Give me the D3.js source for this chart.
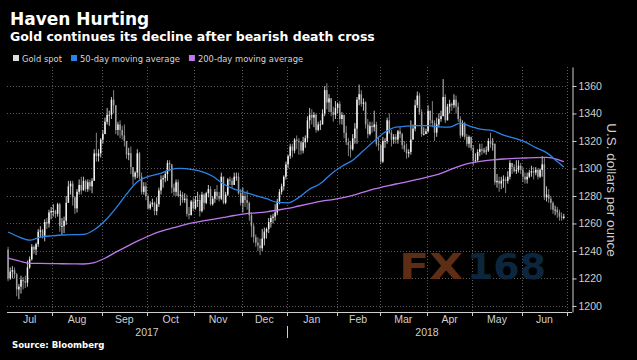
<!DOCTYPE html>
<html>
<head>
<meta charset="utf-8">
<script src="https://cdn.jsdelivr.net/npm/d3@7"></script>
<style>
    html, body { margin: 0; padding: 0; background: #000; }
    svg { display: block; }
</style>
</head>
<body>
<svg id="chart" width="637" height="360"></svg>
<script>
// trading days (weekdays) shown on the axis
var startDate = "2017-07-03",
    endDate = "2018-06-29";

var yTicks = [1200, 1220, 1240, 1260, 1280, 1300, 1320, 1340, 1360];

var seriesNames = ["Gold spot", "50-day moving average", "200-day moving average"];

// gold spot, one value per weekday from Jul 3 2017 (open = previous close)
var firstOpen = 1241;
var close = [
    1220, 1225, 1226, 1223, 1212,  1214, 1219, 1218, 1217, 1228,
    1234, 1243, 1241, 1245, 1254,  1255, 1251, 1261, 1260, 1268,
    1269, 1269, 1267, 1274, 1258,  1258, 1262, 1275, 1287, 1289,
    1279, 1271, 1283, 1288, 1284,  1291, 1285, 1290, 1287, 1291,
    1311, 1309, 1311, 1321, 1325,  1334, 1339, 1339, 1350, 1346,
    1328, 1332, 1328, 1324, 1320,  1310, 1311, 1301, 1294, 1297,
    1311, 1294, 1283, 1287, 1280,  1271, 1274, 1275, 1269, 1274,
    1284, 1292, 1293, 1296, 1304,  1303, 1286, 1283, 1290, 1280,
    1281, 1277, 1278, 1267, 1266,  1276, 1271, 1277, 1277, 1269,
    1281, 1275, 1282, 1285, 1274,  1278, 1283, 1280, 1278, 1294,
    1275, 1281, 1292, 1291, 1288,  1294, 1294, 1282, 1275, 1280,
    1277, 1275, 1266, 1258, 1250,  1246, 1244, 1242, 1249, 1254,
    1256, 1261, 1264, 1265, 1268,  1276, 1283, 1287, 1294, 1303,
    1309, 1316, 1313, 1321, 1320,  1319, 1313, 1319, 1322, 1335,
    1339, 1337, 1339, 1328, 1332,  1332, 1340, 1357, 1348, 1351,
    1341, 1339, 1344, 1347, 1336,  1339, 1326, 1319, 1317, 1314,
    1322, 1329, 1350, 1354, 1347,  1348, 1332, 1325, 1331, 1330,
    1332, 1318, 1317, 1305, 1320,  1320, 1335, 1326, 1321, 1323,
    1321, 1327, 1325, 1317, 1314,  1311, 1312, 1321, 1329, 1346,
    1353, 1341, 1325, 1325, 1327,  1342, 1335, 1333, 1326, 1332,
    1336, 1338, 1352, 1335, 1345,  1347, 1346, 1350, 1345, 1336,
    1324, 1333, 1323, 1318, 1323,  1315, 1306, 1306, 1312, 1314,
    1313, 1313, 1313, 1320, 1318,  1318, 1290, 1291, 1289, 1291,
    1292, 1291, 1294, 1304, 1301,  1298, 1299, 1302, 1299, 1294,
    1292, 1294, 1297, 1298, 1297,  1299, 1294, 1299, 1303, 1279,
    1281, 1278, 1275, 1270, 1270,  1268, 1265, 1264, 1265
];
var high = [
    1243, 1228, 1229, 1228, 1224,  1216, 1222, 1221, 1222, 1233,
    1236, 1245, 1244, 1246, 1256,  1258, 1256, 1263, 1264, 1270,
    1272, 1274, 1270, 1275, 1275,  1264, 1265, 1280, 1291, 1291,
    1291, 1280, 1285, 1292, 1294,  1294, 1292, 1292, 1292, 1293,
    1314, 1326, 1314, 1322, 1328,  1337, 1344, 1342, 1352, 1357,
    1338, 1334, 1335, 1331, 1332,  1320, 1315, 1316, 1301, 1298,
    1314, 1312, 1297, 1290, 1290,  1281, 1276, 1278, 1276, 1279,
    1286, 1295, 1295, 1298, 1306,  1306, 1303, 1289, 1292, 1292,
    1284, 1283, 1282, 1281, 1272,  1277, 1279, 1280, 1283, 1281,
    1283, 1282, 1283, 1288, 1287,  1280, 1285, 1288, 1283, 1297,
    1294, 1283, 1293, 1294, 1293,  1297, 1297, 1297, 1285, 1286,
    1282, 1284, 1276, 1268, 1260,  1252, 1250, 1249, 1256, 1257,
    1257, 1264, 1266, 1267, 1274,  1278, 1285, 1289, 1295, 1305,
    1310, 1318, 1318, 1322, 1324,  1322, 1320, 1323, 1324, 1338,
    1344, 1343, 1341, 1340, 1334,  1335, 1343, 1360, 1362, 1354,
    1351, 1345, 1349, 1348, 1349,  1341, 1339, 1331, 1322, 1320,
    1325, 1333, 1352, 1361, 1357,  1351, 1349, 1336, 1334, 1334,
    1342, 1334, 1323, 1318, 1323,  1322, 1337, 1340, 1328, 1325,
    1325, 1328, 1330, 1326, 1320,  1318, 1314, 1335, 1332, 1350,
    1356, 1355, 1343, 1330, 1329,  1346, 1342, 1349, 1335, 1337,
    1340, 1342, 1365, 1354, 1347,  1350, 1348, 1354, 1353, 1348,
    1338, 1335, 1334, 1325, 1324,  1320, 1317, 1311, 1314, 1318,
    1318, 1315, 1316, 1322, 1326,  1322, 1318, 1296, 1294, 1294,
    1295, 1294, 1298, 1306, 1303,  1303, 1306, 1306, 1304, 1301,
    1297, 1297, 1299, 1302, 1301,  1301, 1300, 1300, 1309, 1308,
    1287, 1285, 1280, 1276, 1273,  1272, 1270, 1268, 1267
];
var low = [
    1218, 1219, 1220, 1220, 1207,  1205, 1209, 1212, 1213, 1214,
    1227, 1233, 1238, 1237, 1243,  1250, 1249, 1247, 1256, 1257,
    1263, 1265, 1264, 1265, 1254,  1252, 1253, 1259, 1276, 1281,
    1273, 1267, 1268, 1281, 1281,  1284, 1283, 1283, 1284, 1282,
    1291, 1305, 1305, 1308, 1318,  1325, 1332, 1331, 1336, 1340,
    1325, 1324, 1322, 1321, 1316,  1307, 1306, 1296, 1288, 1292,
    1293, 1292, 1281, 1281, 1277,  1270, 1270, 1272, 1266, 1266,
    1272, 1281, 1286, 1290, 1291,  1298, 1282, 1280, 1280, 1279,
    1273, 1275, 1275, 1265, 1263,  1266, 1269, 1270, 1272, 1265,
    1268, 1270, 1274, 1279, 1273,  1273, 1275, 1277, 1276, 1277,
    1274, 1274, 1280, 1288, 1286,  1288, 1291, 1281, 1273, 1268,
    1272, 1270, 1262, 1250, 1246,  1243, 1240, 1237, 1240, 1244,
    1249, 1253, 1257, 1260, 1262,  1266, 1274, 1281, 1284, 1292,
    1300, 1307, 1308, 1311, 1314,  1310, 1310, 1311, 1315, 1319,
    1329, 1332, 1330, 1326, 1327,  1328, 1332, 1338, 1343, 1341,
    1338, 1334, 1336, 1340, 1332,  1332, 1322, 1317, 1309, 1308,
    1313, 1318, 1318, 1346, 1345,  1342, 1329, 1322, 1324, 1326,
    1327, 1316, 1313, 1303, 1304,  1315, 1318, 1325, 1316, 1318,
    1318, 1318, 1322, 1314, 1312,  1307, 1308, 1310, 1322, 1327,
    1344, 1339, 1323, 1324, 1325,  1326, 1332, 1330, 1320, 1323,
    1330, 1334, 1338, 1333, 1336,  1340, 1342, 1344, 1340, 1334,
    1322, 1323, 1321, 1316, 1315,  1313, 1302, 1304, 1305, 1309,
    1310, 1311, 1310, 1312, 1315,  1313, 1288, 1286, 1283, 1285,
    1286, 1282, 1289, 1292, 1296,  1297, 1296, 1297, 1296, 1290,
    1289, 1289, 1293, 1294, 1292,  1295, 1292, 1293, 1294, 1277,
    1276, 1275, 1270, 1267, 1266,  1264, 1262, 1262, 1263
];

// moving averages read every 5th trading day (last value = last trading day)
var maStep = 5;
var ma50 = [
    1253.8, 1250.3, 1247.9, 1250.0, 1251.0, 1251.6, 1251.9, 1252.0, 1255.4, 1262.0,
    1271.0, 1281.3, 1290.4, 1294.0, 1296.0, 1299.0, 1300.0, 1299.4, 1297.7, 1294.3,
    1288.7, 1285.0, 1282.6, 1280.3, 1278.0, 1275.3, 1275.0, 1279.0, 1285.0, 1289.0,
    1296.0, 1301.6, 1306.0, 1313.0, 1320.0, 1326.3, 1330.0, 1330.8, 1331.2, 1331.1,
    1330.3, 1330.0, 1333.0, 1330.5, 1328.4, 1327.5, 1324.2, 1322.0, 1319.3, 1315.2,
    1311.5, 1305.0, 1301.0
];
var ma200 = [
    1234.7, 1232.8, 1231.0, 1230.9, 1230.8, 1230.7, 1230.6, 1230.5, 1231.5, 1234.7,
    1239.1, 1243.2, 1247.1, 1250.7, 1253.8, 1256.1, 1258.2, 1260.2, 1261.7, 1263.0,
    1264.4, 1265.8, 1267.0, 1267.7, 1268.5, 1269.7, 1271.0, 1272.7, 1274.4, 1276.1,
    1277.2, 1278.6, 1280.4, 1282.8, 1285.1, 1286.9, 1288.7, 1290.3, 1292.0, 1293.8,
    1295.9, 1299.0, 1301.9, 1304.0, 1305.3, 1306.3, 1306.9, 1307.3, 1307.6, 1307.9,
    1308.0, 1306.7, 1305.0
];

var colorUp = "#f2f2f2",
    colorDown = "#a3a3a3",
    color50 = "#2a84e8",
    color200 = "#c077ee",
    colorGrid = "#5c5c5c",
    colorAxis = "#cfcfcf",
    colorText = "#cfcfcf";

var svg = d3.select("#chart"),
    parse = d3.timeParse("%Y-%m-%d"),
    days = d3.timeDay.range(parse(startDate), d3.timeDay.offset(parse(endDate), 1))
        .filter(function (d) { return d.getDay() % 6 !== 0; }),
    plot = { left: 7, right: 567, top: 67, bottom: 312 },
    x = d3.scaleLinear()
        .domain([-0.5, days.length - 0.5])
        .range([plot.left, plot.right]),
    y = d3.scaleLinear()
        .domain([1195.6, 1373.8])
        .range([plot.bottom, plot.top]);

svg.append("rect").attr("width", 637).attr("height", 360).attr("fill", "#000");

// months and years from the weekday list
var months = [];
days.forEach(function (d, i) {
    if (i === 0 || d.getMonth() !== days[i - 1].getMonth()) {
        months.push({ date: d, start: i - 0.5 });
    }
});
months.forEach(function (m, k) {
    m.end = k < months.length - 1 ? months[k + 1].start : days.length - 0.5;
});
var years = d3.groups(months, function (m) { return m.date.getFullYear(); })
    .map(function (g) {
        return { label: String(g[0]), start: g[1][0].start, end: g[1][g[1].length - 1].end };
    });

// grid
var grid = svg.append("g")
    .attr("stroke", colorGrid)
    .attr("stroke-width", 1)
    .attr("stroke-dasharray", "1,2");

grid.selectAll("line.h")
    .data(yTicks)
    .enter().append("line")
    .attr("x1", plot.left).attr("x2", plot.right)
    .attr("y1", function (d) { return Math.round(y(d)) + 0.5; })
    .attr("y2", function (d) { return Math.round(y(d)) + 0.5; });

grid.selectAll("line.v")
    .data(months.map(function (m) { return m.end; }))
    .enter().append("line")
    .attr("x1", function (d) { return Math.round(x(d)) + 0.5; })
    .attr("x2", function (d) { return Math.round(x(d)) + 0.5; })
    .attr("y1", plot.top).attr("y2", plot.bottom);

// watermark
var mark = svg.append("g")
    .attr("font-family", "DejaVu Sans")
    .attr("font-weight", "bold")
    .attr("font-size", 36);
mark.append("text").attr("x", 399).attr("y", 279)
    .attr("textLength", 64).attr("lengthAdjust", "spacingAndGlyphs")
    .attr("fill", "#5e2d14").text("FX");
mark.append("text").attr("x", 467).attr("y", 279)
    .attr("textLength", 79).attr("lengthAdjust", "spacingAndGlyphs")
    .attr("fill", "#0c263d").text("168");

// candles
var candles = close.map(function (c, i) {
    return { i: i, open: i ? close[i - 1] : firstOpen, close: c, high: high[i], low: low[i] };
});
var bodyW = 1.5;

var cg = svg.append("g");
cg.selectAll("line")
    .data(candles)
    .enter().append("line")
    .attr("x1", function (d) { return x(d.i); })
    .attr("x2", function (d) { return x(d.i); })
    .attr("y1", function (d) { return y(Math.max(d.high, d.open, d.close)); })
    .attr("y2", function (d) { return y(Math.min(d.low, d.open, d.close)); })
    .attr("stroke", function (d) { return d.close >= d.open ? colorUp : colorDown; })
    .attr("stroke-width", 0.8);
cg.selectAll("rect")
    .data(candles)
    .enter().append("rect")
    .attr("x", function (d) { return x(d.i) - bodyW / 2; })
    .attr("width", bodyW)
    .attr("y", function (d) { return y(Math.max(d.open, d.close)); })
    .attr("height", function (d) { return Math.max(0.8, Math.abs(y(d.open) - y(d.close))); })
    .attr("fill", function (d) { return d.close >= d.open ? colorUp : colorDown; });

// moving averages
function maPoints(vals) {
    return vals.map(function (v, k) {
        return { i: k < vals.length - 1 ? k * maStep : close.length - 1, v: v };
    });
}
var line = d3.line()
    .x(function (d) { return x(d.i); })
    .y(function (d) { return y(d.v); })
    .curve(d3.curveMonotoneX);

svg.append("path").datum(maPoints(ma200))
    .attr("d", line).attr("fill", "none")
    .attr("stroke", color200).attr("stroke-width", 1.3);
svg.append("path").datum(maPoints(ma50))
    .attr("d", line).attr("fill", "none")
    .attr("stroke", color50).attr("stroke-width", 1.3);

// x axis
var xa = svg.append("g");
xa.append("line")
    .attr("x1", plot.left).attr("x2", 572)
    .attr("y1", plot.bottom + 0.5).attr("y2", plot.bottom + 0.5)
    .attr("stroke", colorAxis);
xa.selectAll("line.tick")
    .data(months.map(function (m) { return m.end; }))
    .enter().append("line")
    .attr("x1", function (d) { return Math.round(x(d)) + 0.5; })
    .attr("x2", function (d) { return Math.round(x(d)) + 0.5; })
    .attr("y1", plot.bottom).attr("y2", plot.bottom + 4)
    .attr("stroke", colorAxis);
xa.selectAll("text.month")
    .data(months)
    .enter().append("text")
    .attr("x", function (m) { return x((m.start + m.end) / 2); })
    .attr("y", 323)
    .attr("text-anchor", "middle")
    .attr("font-family", "Liberation Sans, Arial, sans-serif")
    .attr("font-size", 10.5)
    .attr("fill", colorText)
    .text(function (m) { return d3.timeFormat("%b")(m.date); });
xa.selectAll("text.year")
    .data(years)
    .enter().append("text")
    .attr("x", function (d) { return x((d.start + d.end) / 2); })
    .attr("y", 336)
    .attr("text-anchor", "middle")
    .attr("font-family", "Liberation Sans, Arial, sans-serif")
    .attr("font-size", 10.5)
    .attr("fill", colorText)
    .text(function (d) { return d.label; });
xa.selectAll("line.year")
    .data(years.slice(1))
    .enter().append("line")
    .attr("x1", function (d) { return Math.round(x(d.start)) + 0.5; })
    .attr("x2", function (d) { return Math.round(x(d.start)) + 0.5; })
    .attr("y1", 326).attr("y2", 338)
    .attr("stroke", colorAxis);

// y axis
var ya = svg.append("g")
    .attr("transform", "translate(572.5,0)")
    .call(d3.axisRight(y).tickValues(yTicks).tickFormat(d3.format("d"))
        .tickSize(4).tickPadding(2).tickSizeOuter(0));
ya.select(".domain").attr("stroke", colorAxis);
ya.selectAll(".tick line").attr("stroke", colorAxis);
ya.selectAll(".tick text")
    .attr("font-family", "Liberation Sans, Arial, sans-serif")
    .attr("font-size", 10.5)
    .attr("fill", colorText);

svg.append("text")
    .attr("transform", "translate(607,190) rotate(90)")
    .attr("text-anchor", "middle")
    .attr("font-family", "Liberation Sans, Arial, sans-serif")
    .attr("font-size", 13.5)
    .attr("fill", colorText)
    .text("U.S. dollars per ounce");

// titles
svg.append("text").attr("x", 10).attr("y", 25)
    .attr("font-family", "DejaVu Sans").attr("font-weight", "bold")
    .attr("font-size", 17).attr("fill", "#fff")
    .text("Haven Hurting");
svg.append("text").attr("x", 10).attr("y", 41)
    .attr("font-family", "DejaVu Sans").attr("font-weight", "bold")
    .attr("font-size", 12.5).attr("fill", "#fff")
    .text("Gold continues its decline after bearish death cross");

// legend
var legendColors = ["#dcdcdc", color50, color200],
    lx = 13;
seriesNames.forEach(function (name, k) {
    svg.append("rect").attr("x", lx).attr("y", 55).attr("width", 6).attr("height", 6)
        .attr("fill", legendColors[k]);
    var t = svg.append("text").attr("x", lx + 9).attr("y", 61.5)
        .attr("font-family", "DejaVu Sans").attr("font-size", 8.4)
        .attr("fill", "#d6d6d6").text(name);
    lx += 9 + t.node().getComputedTextLength() + 9;
});

svg.append("text").attr("x", 12).attr("y", 348)
    .attr("font-family", "DejaVu Sans").attr("font-weight", "bold")
    .attr("font-size", 8.6).attr("fill", "#fff")
    .text("Source: Bloomberg");
</script>
</body>
</html>
